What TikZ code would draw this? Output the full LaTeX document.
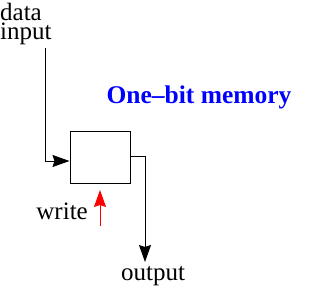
\documentclass[tikz,border=0pt]{standalone}
\usepackage{fontspec}
\setmainfont{Liberation Serif}
\usetikzlibrary{arrows.meta}
\begin{document}
\begin{tikzpicture}[x=1pt,y=-1pt,
  lbl/.style={font=\fontsize{25}{20}\selectfont, inner sep=0pt},
  wire/.style={line width=1pt, -{Stealth[length=17pt,width=12pt,inset=2pt]}},
  membox/.style={draw, line width=1pt, minimum width=60pt, minimum height=52pt, inner sep=0pt}]
\useasboundingbox (0,0) rectangle (316,290);
\node[lbl, anchor=base west] (data) at (0,20) {data};
\node[lbl, anchor=base west] (input) at (0,39) {input};
\node[membox] (box) at (100,157) {};
\node[lbl, font=\fontsize{25.5}{24}\selectfont\bfseries, text=blue] (title) at (199,97) {One\textendash bit memory};
\node[lbl, anchor=east] (write) at (88,211) {write};
\node[lbl] (output) at (153,276) {output};
\coordinate (din) at (45,48);
\coordinate (outend) at (145,262);
\coordinate (wstart) at (100,226);
\coordinate (wend) at (100,190);
\draw[wire] (din) |- ([yshift=-4pt]box.west);
\draw[wire] ([yshift=1pt]box.east) -| (outend);
\draw[line width=1pt, red, -{Stealth[length=17pt,width=12pt,inset=2pt]}] (wstart) -- (wend);
\end{tikzpicture}
\end{document}
